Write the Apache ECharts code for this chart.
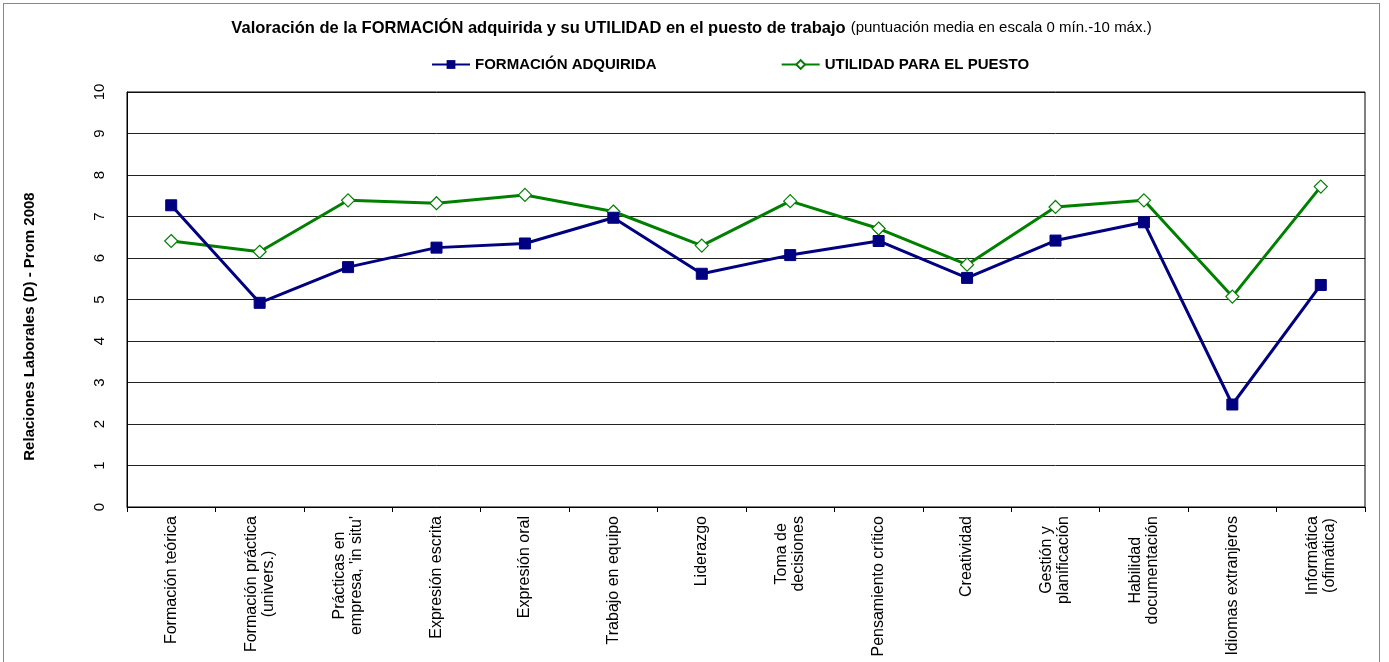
<!DOCTYPE html>
<html>
<head>
<meta charset="utf-8">
<script src="https://cdn.jsdelivr.net/npm/echarts@6/dist/echarts.min.js"></script>
<style>
  html, body { margin: 0; padding: 0; background: #fff; }
  #main { position: absolute; left: 3px; top: 3px; width: 1377px; height: 680px; border: 1px solid #888; box-sizing: border-box; }
</style>
</head>
<body>
<div id="main"></div>
<script>
var categorias = ['Formación teórica', 'Formación práctica\n(univers.)', 'Prácticas en\nempresa, \'in situ\'',
  'Expresión escrita', 'Expresión oral', 'Trabajo en equipo', 'Liderazgo', 'Toma de\ndecisiones',
  'Pensamiento crítico', 'Creatividad', 'Gestión y\nplanificación', 'Habilidad\ndocumentación',
  'Idiomas extranjeros', 'Informática\n(ofimática)']
var formacion = [7.27, 4.92, 5.78, 6.25, 6.35, 6.97, 5.62, 6.07, 6.41, 5.52, 6.42, 6.86, 2.47, 5.35]
var utilidad = [6.41, 6.15, 7.39, 7.32, 7.52, 7.12, 6.3, 7.37, 6.71, 5.84, 7.23, 7.39, 5.07, 7.72]
var ticksY = [0, 10, 1]

var myChart = echarts.init(document.getElementById('main'))
var option = {
  animation: false,
  textStyle: { fontFamily: 'Liberation Sans, Arial, sans-serif' },
  title: {
    text: '{b|Valoración de la FORMACIÓN adquirida y su UTILIDAD en el puesto de trabajo} {n|(puntuación media en escala 0 mín.-10 máx.)}',
    left: 'center',
    top: 10,
    textStyle: {
      rich: {
        b: { fontSize: 16.5, fontWeight: 'bold', color: '#000', fontFamily: 'Liberation Sans' },
        n: { fontSize: 15, fontWeight: 'normal', color: '#000', fontFamily: 'Liberation Sans' }
      }
    }
  },
  legend: {
    top: 48,
    left: 422,
    itemWidth: 38,
    itemHeight: 11,
    itemGap: 124,
    textStyle: { fontSize: 15, fontWeight: 'bold', color: '#000', fontFamily: 'Liberation Sans' },
    data: ['FORMACIÓN ADQUIRIDA', 'UTILIDAD PARA EL PUESTO']
  },
  grid: { left: 123, right: 14, top: 88, bottom: 175 },
  xAxis: {
    type: 'category',
    boundaryGap: true,
    data: categorias,
    axisLine: { lineStyle: { color: '#000', width: 1 } },
    axisTick: { show: true, length: 5, lineStyle: { color: '#000' } },
    axisLabel: {
      rotate: 90,
      interval: 0,
      margin: 9,
      color: '#000',
      fontSize: 16,
      fontFamily: 'Liberation Sans',
      formatter: function (v) {
        return v.split('\n').map(function (s) { return '{c|' + s + '}' }).join('\n')
      },
      rich: { c: { align: 'center', fontSize: 16, fontFamily: 'Liberation Sans', color: '#000', lineHeight: 17 } }
    }
  },
  yAxis: {
    type: 'value',
    min: ticksY[0],
    max: ticksY[1],
    interval: ticksY[2],
    name: 'Relaciones Laborales (D) - Prom 2008',
    nameLocation: 'middle',
    nameGap: 90,
    nameTextStyle: { fontSize: 15, fontWeight: 'bold', color: '#000', fontFamily: 'Liberation Sans', padding: [0, 54, 0, 0] },
    axisLine: { show: true, lineStyle: { color: '#000' } },
    axisTick: { show: false },
    axisLabel: { rotate: 90, color: '#000', fontSize: 15, margin: 20, fontFamily: 'Liberation Sans' },
    splitLine: { lineStyle: { color: '#222', width: 1 } }
  },
  series: [
    {
      name: 'FORMACIÓN ADQUIRIDA',
      type: 'line',
      data: formacion,
      symbol: 'rect',
      symbolSize: 11,
      lineStyle: { color: '#000080', width: 3 },
      itemStyle: { color: '#000080', borderColor: '#000080' },
      z: 3
    },
    {
      name: 'UTILIDAD PARA EL PUESTO',
      type: 'line',
      data: utilidad,
      symbol: 'diamond',
      symbolSize: 13,
      lineStyle: { color: '#008000', width: 3 },
      itemStyle: { color: '#fff', borderColor: '#008000', borderWidth: 1.2 },
      z: 2
    }
  ]
}
myChart.setOption(option)
// marco del área del gráfico
myChart.setOption({
  graphic: [{
    type: 'rect',
    shape: { x: 123, y: 88, width: 1375 - 123 - 14, height: 678 - 88 - 175 },
    style: { fill: 'none', stroke: '#000', lineWidth: 1 },
    silent: true, z: 0
  }]
})
window.addEventListener('resize', function () { myChart.resize() })
</script>
</body>
</html>
